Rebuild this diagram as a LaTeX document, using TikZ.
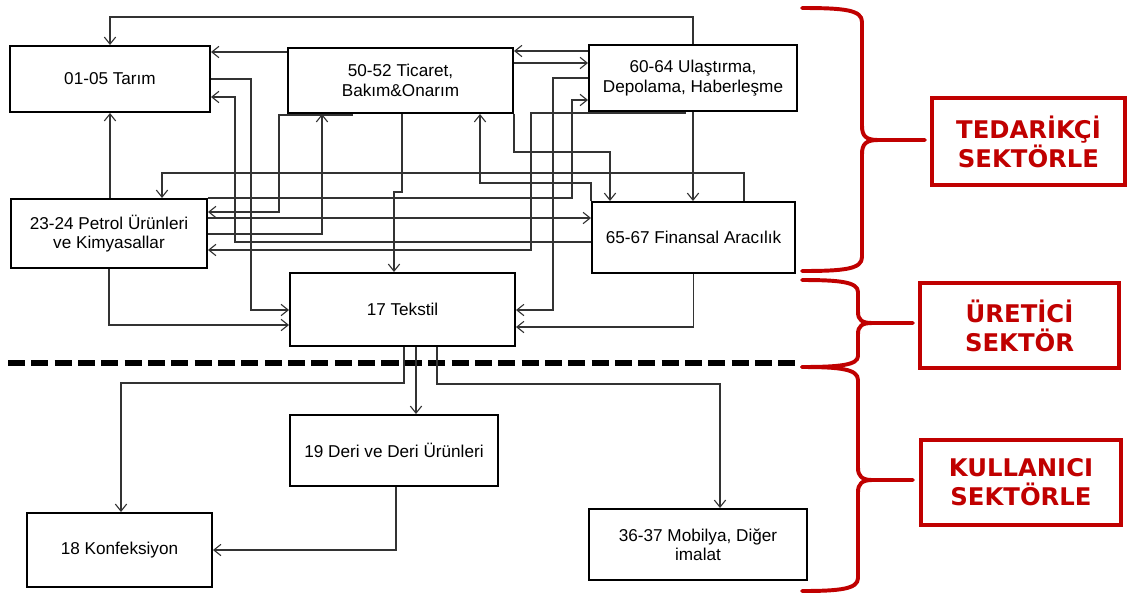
\documentclass[tikz,border=0pt]{standalone}
\usepackage{fontspec}
\setmainfont{Liberation Sans}
\newfontfamily\etiketfont{DejaVu Sans}
\usetikzlibrary{arrows.meta}

\definecolor{koyukirmizi}{RGB}{192,0,0}

\tikzset{
  kutu/.style 2 args={draw, line width=1.4pt, minimum width=#1*0.025cm, minimum height=#2*0.025cm,
    align=center, inner sep=2pt, font=\fontsize{12.2}{13.8}\selectfont},
  ok/.style={draw=black!80, line width=0.8pt, -{Straight Barb[length=5pt,width=8pt]}},
  etiket/.style 2 args={draw=koyukirmizi, line width=2.8pt, minimum width=#1*0.025cm, minimum height=#2*0.025cm,
    align=center, text=koyukirmizi, font=\etiketfont\bfseries\fontsize{17.3}{20.6}\selectfont},
  parantez/.style={draw=koyukirmizi, line width=2.8pt, line cap=round, line join=round},
}

\begin{document}
\begin{tikzpicture}
    \begin{scope}[x=0.025cm, y=-0.025cm]
        \useasboundingbox (0,0) rectangle (1128,594);

        % sektör kutuları
        \node[kutu={200}{66}] (tarim) at (110,79) {01-05 Tarım};
        \node[kutu={225}{65}] (ticaret) at (400.5,80.5) {50-52 Ticaret,\\Bakım\&Onarım};
        \node[kutu={208}{66}] (ulastirma) at (693,78) {60-64 Ulaştırma,\\Depolama, Haberleşme};
        \node[kutu={196}{69}] (petrol) at (109,233.5) {23-24 Petrol Ürünleri\\ve Kimyasallar};
        \node[kutu={203}{71}] (finansal) at (693.5,237.5) {65-67 Finansal Aracılık};
        \node[kutu={225}{73}] (tekstil) at (402.5,309.5) {17 Tekstil};
        \node[kutu={208}{71}] (deri) at (394,450.5) {19 Deri ve Deri Ürünleri};
        \node[kutu={185}{74}] (konfeksiyon) at (119.5,550) {18 Konfeksiyon};
        \node[kutu={218}{71}] (mobilya) at (698,544.5) {36-37 Mobilya, Diğer\\imalat};

        % kesikli ayırma çizgisi
        \draw [line width=3.8pt, dash pattern=on 12.1pt off 4.5pt] (8,363) -- (795,363);

        % tedarikçi sektörler arası bağlantılar
        \draw [ok] (ulastirma.north) -- ++(0,-27) -| (tarim.north);
        \draw [ok] (ticaret.west |- 0,52) -- (tarim.east |- 0,52);
        \draw [ok] (finansal.west |- 0,242) -| (235,97) -- (tarim.east |- 0,97);
        \draw [ok] (petrol.north -| tarim.south) -- (tarim.south);
        \draw [ok] (finansal.north -| 744,0) -- (744,173) -| (petrol.north -| 162,0);
        \draw [ok] (ticaret.south -| 352,0) |- (279,115) |- (petrol.east |- 0,212);
        \draw [ok] (petrol.east |- 0,218) -- (finansal.west |- 0,218);
        \draw [ok] (petrol.east |- 0,234) -| (ticaret.south -| 322,0);
        \draw [ok] (ulastirma.south -| 685,0) |- (531,113) |- (petrol.east |- 0,250);
        \draw [ok] (petrol.north east) -| (572,100) -- (ulastirma.west |- 0,100);
        \draw [ok] (ticaret.east |- 0,63) -- (ulastirma.west |- 0,63);
        \draw [ok] (ulastirma.west |- 0,51) -- (ticaret.east |- 0,51);
        \draw [ok] (ticaret.south east) |- (610,152) -- (finansal.north -| 610,0);
        \draw [ok] (ulastirma.south) -- (finansal.north -| ulastirma.south);
        \draw [ok] (finansal.north west) |- (480,183) -- (ticaret.south -| 480,0);

        % tekstile girdiler
        \draw [ok] (tarim.east) -| (251,310) -- (tekstil.west |- 0,310);
        \draw [ok] (petrol.south) |- (tekstil.west |- 0,325);
        \draw [ok] (ticaret.south -| 402,0) -- (402,192) -- (394,192) -- (tekstil.north -| 394,0);
        \draw [ok] (ulastirma.west) -| (553,310) -- (tekstil.east |- 0,310);
        \draw [ok] (finansal.south) |- (tekstil.east |- 0,327);

        % kullanıcı sektörler
        \draw [ok] (tekstil.south -| 404,0) |- (121,383) -- (konfeksiyon.north -| 121,0);
        \draw [ok] (tekstil.south -| 416,0) -- (deri.north -| 416,0);
        \draw [ok] (tekstil.south -| 437,0) |- (720,384) -- (mobilya.north -| 720,0);
        \draw [ok] (deri.south -| 396,0) |- (konfeksiyon.east);

        % parantezler
        \draw [parantez] (802,8) .. controls (845,8) and (862,10) .. (862,22) -- (862,126)
            .. controls (862,136) and (866,140) .. (878,140) -- (925,140) -- (878,140)
            .. controls (866,140) and (862,144) .. (862,154) -- (862,257)
            .. controls (862,269) and (845,271) .. (802,271);
        \draw [parantez] (802,280) .. controls (840,280) and (858,282) .. (858,292) -- (858,312)
            .. controls (858,320) and (862,323) .. (872,323) -- (913,323) -- (872,323)
            .. controls (862,323) and (858,326) .. (858,334) -- (858,356)
            .. controls (858,365) and (840,367) .. (802,367);
        \draw [parantez] (802,367) .. controls (840,367) and (858,369) .. (858,380) -- (858,468)
            .. controls (858,476) and (862,480) .. (872,480) -- (913,480) -- (872,480)
            .. controls (862,480) and (858,484) .. (858,492) -- (858,578)
            .. controls (858,589) and (840,591) .. (802,591);

        % etiketler
        \node[etiket={193}{87}] (tedarikci) at (1028.5,141.5) {TEDARİKÇİ\\SEKTÖRLE};
        \node[etiket={199}{85}] (uretici) at (1019.5,325.5) {ÜRETİCİ\\SEKTÖR};
        \node[etiket={200}{85}] (kullanici) at (1021,482.5) {KULLANICI\\SEKTÖRLE};

    \end{scope}
\end{tikzpicture}
\end{document}
